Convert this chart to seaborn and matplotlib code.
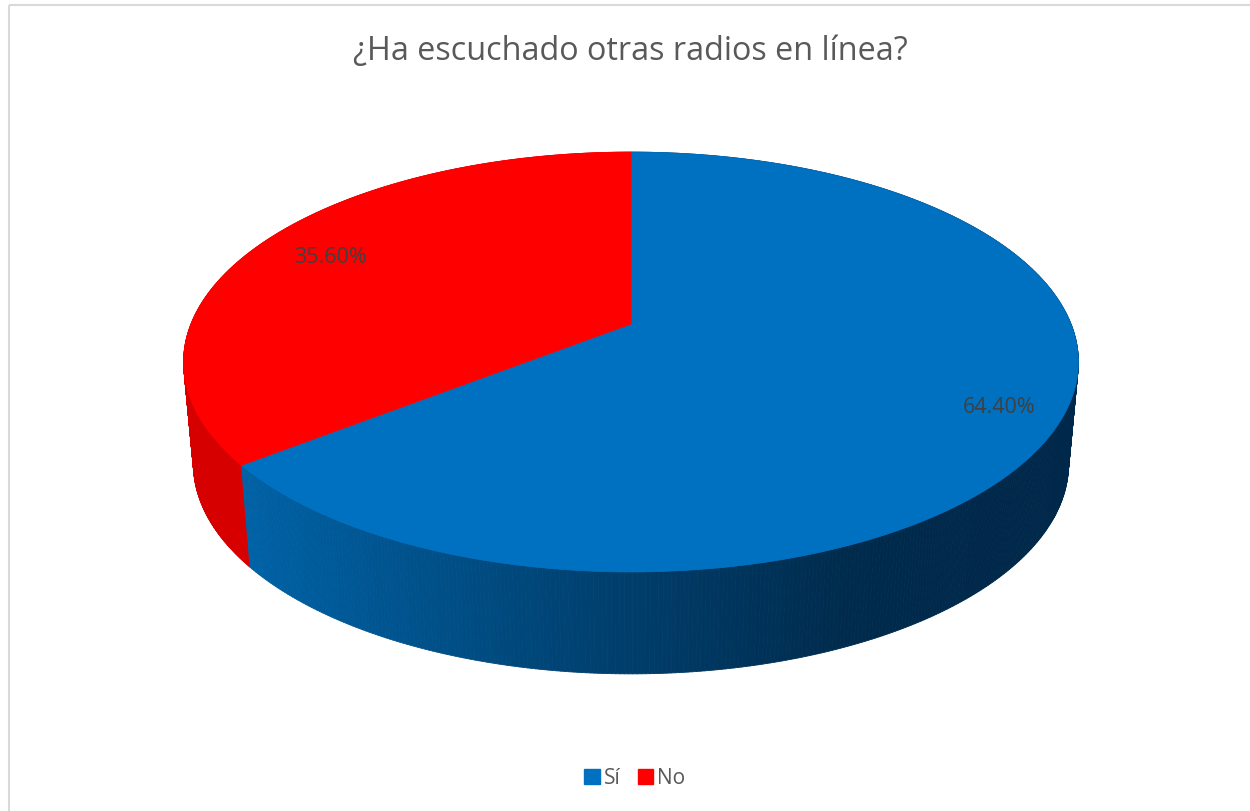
import numpy as np
import matplotlib
matplotlib.use("Agg")
import matplotlib.pyplot as plt
import seaborn as sns
from matplotlib.patches import Polygon, Rectangle, Patch
from matplotlib.collections import PolyCollection
from matplotlib.colors import LinearSegmentedColormap

# Chart data
labels = ["Sí", "No"]
values = [64.40, 35.60]
value_text = ["64.40%", "35.60%"]
title = "¿Ha escuchado otras radios en línea?"

# Styling
top_colors = ["#0070C0", "#FF0000"]
label_radius = [0.866, 0.809]
sns.set_style("white")
plt.rcParams["font.family"] = ["Open Sans", "DejaVu Sans"]

W, H = 1250, 812
fig = plt.figure(figsize=(W / 100, H / 100), dpi=100)
ax = fig.add_axes([0, 0, 1, 1])
ax.set_xlim(0, W)
ax.set_ylim(H, 0)
ax.axis("off")

# perspective ellipse geometry (pixels)
cx, cy = 631, 325
A, B, k = 440, 203, 0.181
depth = 102
shrink = 0.978


def proj(u, v):
    w = 1 + k * v
    return cx + A * u / w, cy - B * v / w


def bottom(x, y):
    return cx + (x - cx) * shrink, y + depth


blue_side = LinearSegmentedColormap.from_list(
    "side", [(0, "#0062A6"), (0.45, "#004272"), (0.8, "#002B4D"), (1, "#00284A")]
)
side_colors = [None, "#D70000"]

# slice angles: clockwise from 12 o'clock
fracs = np.array(values) / np.sum(values)
starts = 90 - 360 * np.concatenate([[0], np.cumsum(fracs)[:-1]])
ends = starts - 360 * fracs

quads, qcol, qkey = [], [], []
tops = []
for i in range(len(values)):
    th = np.radians(np.linspace(starts[i], ends[i], 500))
    u, v = np.cos(th), np.sin(th)
    xs, ys = proj(u, v)
    tops.append((xs, ys))
    for j in range(len(th) - 1):
        bx1, by1 = bottom(xs[j], ys[j])
        bx2, by2 = bottom(xs[j + 1], ys[j + 1])
        quads.append([(xs[j], ys[j]), (xs[j + 1], ys[j + 1]), (bx2, by2), (bx1, by1)])
        if side_colors[i] is None:
            t = np.clip((xs[j] - 240) / (1000 - 240), 0, 1)
            qcol.append(blue_side(t))
        else:
            qcol.append(side_colors[i])
        qkey.append((v[j] + v[j + 1]) / 2)

order = np.argsort(qkey)[::-1]
ax.add_collection(PolyCollection([quads[o] for o in order],
                                 facecolors=[qcol[o] for o in order],
                                 edgecolors=[qcol[o] for o in order],
                                 linewidths=0.6))

for i, (xs, ys) in enumerate(tops):
    pts = [(cx, cy)] + list(zip(xs, ys))
    ax.add_patch(Polygon(pts, closed=True, facecolor=top_colors[i],
                         edgecolor=top_colors[i], linewidth=0.6))

# data labels
for i in range(len(values)):
    mid = np.radians((starts[i] + ends[i]) / 2)
    r = label_radius[i]
    lx, ly = proj(r * np.cos(mid), r * np.sin(mid))
    ax.text(lx, ly, value_text[i], ha="center", va="center",
            fontsize=15.5, color="#404040")

ax.text(630, 51, title, ha="center", va="center", fontsize=23.3, color="#595959")

handles = [Patch(facecolor=c, edgecolor=c, label=l) for c, l in zip(top_colors, labels)]
ax.legend(handles=handles, loc="center", bbox_to_anchor=(635 / W, 1 - 779 / H),
          ncol=2, frameon=False, fontsize=15, handlelength=0.75, handleheight=0.75,
          handletextpad=0.2, columnspacing=0.8, labelcolor="#595959")

ax.add_patch(Rectangle((8.5, 5.5), 1300, 900, fill=False,
                       edgecolor="#D9D9D9", linewidth=1.5))

fig.savefig("out.png", dpi=100)
